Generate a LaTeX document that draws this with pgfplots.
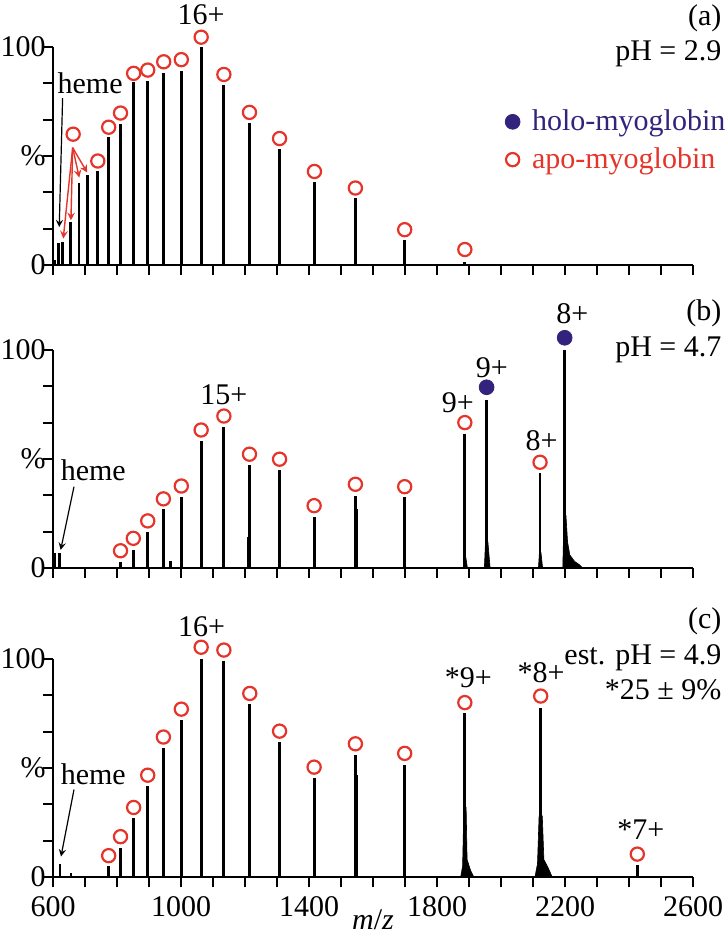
\documentclass[border=0pt]{standalone}
\usepackage{pgfplots}
\pgfplotsset{compat=1.18}
\usepackage{fontspec}
\setmainfont{Liberation Serif}
\definecolor{apored}{HTML}{E5342A}
\definecolor{holoblue}{HTML}{33237D}
\pgfplotsset{
  myaxis/.style={
    scale only axis, width=320pt, height=109pt,
    xmin=600, xmax=2600, ymin=0, ymax=100,
    axis lines=left, axis line style={-, line width=1pt},
    tick align=outside, major tick length=5pt,
    tick style={line width=1pt, black},
    xtick={600,700,...,2600},
    ytick={0,16.667,33.333,50,66.667,83.333,100},
    yticklabels={0,,,\%,,,100},
    xticklabels={},
    clip=false,
    tick label style={font=\fontsize{15}{18}\selectfont},
    yticklabel style={inner sep=0pt, xshift=1.5pt},
    xticklabel style={yshift=-1pt},
    /pgf/number format/assume math mode=true,
    anchor=south west,
  },
  peaks/.style={ycomb, black, line width=1.4pt, no marks, forget plot},
  shoulder/.style={ycomb, black, line width=0.8pt, no marks, forget plot},
  tail/.style={fill=black, draw=black, line width=0.3pt, no marks, forget plot},
  apo/.style={only marks, mark=o, mark size=3.3pt, mark options={line width=1.1pt, draw=apored}, forget plot},
  holo/.style={only marks, mark=*, mark size=3.7pt, mark options={fill=holoblue, draw=holoblue}, forget plot},
}
\begin{document}
\begin{tikzpicture}[font=\fontsize{15}{18}\selectfont]
\useasboundingbox (0,0) rectangle (363pt,470.5pt);
% ---------------- (a)
\begin{axis}[myaxis, at={(26.5pt,338pt)},
  legend style={at={(axis cs:2012,57)}, anchor=west, draw=none, fill=none,
    font=\fontsize{15}{18}\selectfont, row sep=3pt, inner sep=0pt},
  legend cell align=left,
  legend image code/.code={\draw[#1] plot coordinates {(0.15cm,0cm)};}]
\addplot[peaks] coordinates {(606,2.5) (617,10) (630,10.5) (655,19.7) (681,37.4) (709,41.2) (740,43.2) (774,58.6) (811,64.7) (852,84.1) (896,84.5) (946,87.9) (1001,89.1) (1063,100) (1134,82.6) (1214,65.2) (1308,53) (1417,38.2) (1545,30.6) (1699,11.4) (1887,1.5)};
\addplot[apo] coordinates {(663,60) (740,47.7) (774,63.2) (811,69.7) (852,87.9) (896,89.4) (946,93.2) (1001,94.2) (1063,104.5) (1134,87.4) (1214,70) (1308,58) (1417,42.9) (1545,35.3) (1699,16.2) (1887,7.1)};
\draw[-stealth, apored, line width=0.7pt] (axis cs:661.5,53.8) -- (axis cs:632,12.1);
\draw[-stealth, apored, line width=0.7pt] (axis cs:661.5,53.8) -- (axis cs:656,20.5);
\draw[-stealth, apored, line width=0.7pt] (axis cs:661.5,53.8) -- (axis cs:682,40.1);
\draw[-stealth, apored, line width=0.7pt] (axis cs:661.5,53.8) -- (axis cs:707,42.4);
\draw[-stealth, black, line width=0.6pt] (axis cs:630,76.5) -- (axis cs:619.5,17.4);
\node[anchor=base] at (axis cs:716,78.5) {heme};
\node[anchor=base] at (axis cs:1063,110.5) {16+};
\node[anchor=base east, inner sep=0pt] at (axis cs:2690,109.7) {(a)};
\node[anchor=base east, inner sep=0pt] at (axis cs:2690,93.8) {pH = 2.9};
\addlegendimage{only marks, mark=*, mark size=3.7pt, mark options={fill=holoblue, draw=holoblue}}
\addlegendentry{\hspace*{4pt}\textcolor{holoblue}{holo-myoglobin}}
\addlegendimage{only marks, mark=o, mark size=3.3pt, mark options={line width=1.1pt, draw=apored}}
\addlegendentry{\hspace*{4pt}\textcolor{apored}{apo-myoglobin}}
\end{axis}
% ---------------- (b)
\begin{axis}[myaxis, at={(26.5pt,186.5pt)}]
\addplot[peaks] coordinates {(606,7) (620,6.7) (811,2.9) (851,8.3) (896,16.4) (945,26.9) (968,3) (1001,32.4) (1063,58.4) (1134,64.8) (1214,47.2) (1308,45) (1416,23.5) (1545,33.2) (1699,32.4) (1887,61.5) (1955,77.1) (2122,43.4) (2199,100)};
\addplot[shoulder] coordinates {(1209,14) (1550,27)};
\addplot[tail] coordinates {(1882,0) (1885,5) (1890,5) (1895,0)} \closedcycle;
\addplot[tail] coordinates {(1948,0) (1953,17) (1959,12) (1966,0)} \closedcycle;
\addplot[tail] coordinates {(2117,0) (2120,7) (2125,7) (2130,0)} \closedcycle;
\addplot[tail] coordinates {(2193,0) (2197,24) (2203,24) (2208,12) (2215,6) (2230,3) (2245,1.5) (2255,0)} \closedcycle;
\addplot[apo] coordinates {(811,7.9) (851,13.6) (896,21.6) (945,31.7) (1001,37.6) (1063,63.3) (1134,69.7) (1214,52.2) (1308,49.9) (1416,28.6) (1545,38.4) (1699,37.3) (1887,66.7) (2122,48.5)};
\addplot[holo] coordinates {(1955,82.9) (2199,105.6)};
\draw[-stealth, black, line width=0.6pt] (axis cs:665.6,37.3) -- (axis cs:624,8.3);
\node[anchor=base] at (axis cs:726,40) {heme};
\node[anchor=base] at (axis cs:1134,74.8) {15+};
\node[anchor=base] at (axis cs:1865,71.1) {9+};
\node[anchor=base] at (axis cs:1971,87.2) {9+};
\node[anchor=base] at (axis cs:2127,54.1) {8+};
\node[anchor=base] at (axis cs:2223,112.2) {8+};
\node[anchor=base east, inner sep=0pt] at (axis cs:2690,113.4) {(b)};
\node[anchor=base east, inner sep=0pt] at (axis cs:2690,96.9) {pH = 4.7};
\end{axis}
% ---------------- (c)
\begin{axis}[myaxis, at={(26.5pt,32pt)},
  xticklabels={600,,,,1000,,,,1400,,,,1800,,,,2200,,,,2600}]
\addplot[peaks] coordinates {(622,6) (656,2) (774,5) (811,13.5) (852,27) (896,41.9) (945,59) (1001,71.9) (1063,100) (1134,98.9) (1215,79.3) (1308,61.9) (1416,45.4) (1545,55.9) (1699,51.6) (1887,75.4) (2124,77.7) (2426,5.5)};
\addplot[shoulder] coordinates {(1550,47)};
\addplot[tail] coordinates {(1874,0) (1880,5) (1884,32) (1891,32) (1894,8) (1905,3) (1915,0)} \closedcycle;
\addplot[tail] coordinates {(2106,0) (2114,6) (2119,28) (2129,28) (2134,8) (2148,4) (2160,0)} \closedcycle;
\addplot[apo] coordinates {(774,9.8) (811,18.5) (852,31.9) (896,46.7) (945,64.2) (1001,77) (1063,105.4) (1134,104.1) (1215,84.2) (1308,66.9) (1416,50.4) (1545,61.1) (1699,56.7) (1887,80) (2124,83) (2426,10.5)};
\draw[-stealth, black, line width=0.6pt] (axis cs:665.6,40.1) -- (axis cs:625,9.4);
\node[anchor=base] at (axis cs:726,42.5) {heme};
\node[anchor=base] at (axis cs:1064,110.1) {16+};
\node[anchor=base] at (axis cs:1898,87.1) {*9+};
\node[anchor=base] at (axis cs:2125,89.3) {*8+};
\node[anchor=base] at (axis cs:2437,17) {*7+};
\node[anchor=base east, inner sep=0pt] at (axis cs:2690,113.8) {(c)};
\node[anchor=base east, inner sep=0pt] at (axis cs:2690,97.7) {est. pH = 4.9};
\node[anchor=base east, inner sep=0pt] at (axis cs:2690,81.2) {*25 ± 9\%};
\node[anchor=base] at (axis cs:1600,-24) {\textit{m}/\textit{z}};
\end{axis}
\end{tikzpicture}
\end{document}
